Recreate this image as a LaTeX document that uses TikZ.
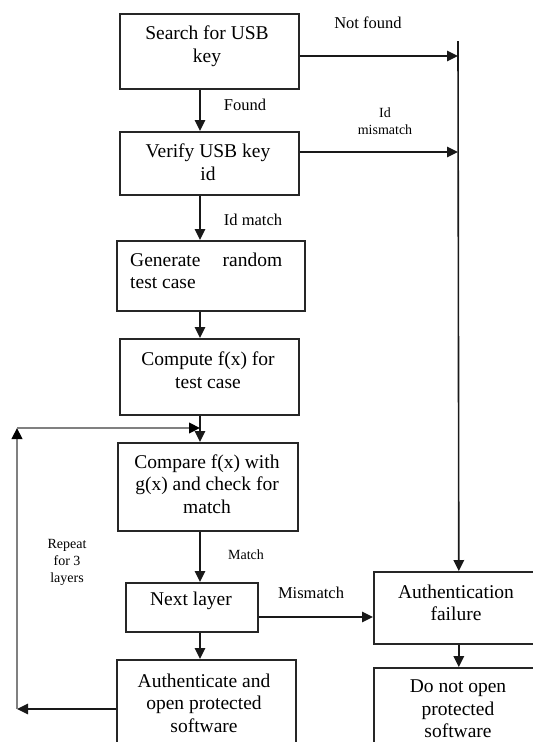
\documentclass[tikz,border=0pt]{standalone}
\usepackage{fontspec}
\setmainfont{Liberation Serif}
\usetikzlibrary{arrows.meta}
\begin{document}
\begin{tikzpicture}[x=1pt,y=-1pt,
  box/.style={draw=black!85, line width=1.6pt, inner sep=0pt, anchor=north west},
  txt/.style={font=\fontsize{19.5}{22.5}\selectfont, align=center, inner sep=0pt},
  lbl/.style={font=\fontsize{16.5}{19}\selectfont, inner sep=0pt},
  small/.style={font=\fontsize{14}{17}\selectfont, align=center, inner sep=0pt},
  arr/.style={draw=black!90, line width=1.6pt, -{Triangle[length=11pt,width=10.5pt]}},
  loopline/.style={draw=black!50, line width=2.4pt, -{Triangle[length=11pt,width=10.5pt,color=black]}}]
\useasboundingbox (0,0) rectangle (533,742);
% boxes
\node[box, minimum width=179pt, minimum height=75pt] (b1) at (119,13) {};
\node[box, minimum width=179pt, minimum height=63pt] (b2) at (119,131) {};
\node[box, minimum width=188pt, minimum height=70pt] (b3) at (116,240) {};
\node[box, minimum width=179pt, minimum height=76pt] (b4) at (119,338) {};
\node[box, minimum width=180pt, minimum height=88pt] (b5) at (117,442) {};
\node[box, minimum width=132pt, minimum height=49pt] (b6) at (125,582) {};
\node[box, minimum width=179pt, minimum height=100pt] (b7) at (116,659) {};
\node[box, minimum width=170pt, minimum height=72pt] (b8) at (373,571) {};
\node[box, minimum width=170pt, minimum height=100pt] (b9) at (373,667) {};
% box texts
\node[txt] (t1) at (207,46) {Search for USB\\key};
\node[txt] (t2) at (208,162) {Verify USB key\\id};
\node[txt, align=left, anchor=west] (t3) at (130,271) {\hbox to 152pt{Generate\hfill random}\\test case};
\node[txt] (t4) at (208,370) {Compute f(x) for\\test case};
\node[txt] (t5) at (207,484) {Compare f(x) with\\g(x) and check for\\match};
\node[txt] (t6) at (191,601) {Next layer};
\node[txt] (t7) at (456,603) {Authentication\\failure};
\node[txt] (t8) at (458,709) {Do not open\\protected\\software};
\node[txt] (t9) at (204,703) {Authenticate and\\open protected\\software};
% labels
\node[lbl] (l1) at (368,23) {Not found};
\node[lbl] (l2) at (245,105) {Found};
\node[small] (l3) at (385,121) {Id\\mismatch};
\node[lbl] (l4) at (253,220) {Id match};
\node[small] (l5) at (67,562) {Repeat\\for 3\\layers};
\node[small] (l6) at (246,555) {Match};
\node[lbl] (l7) at (311,593) {Mismatch};
% coordinates
\coordinate (col) at (200,0);
\coordinate (vtop) at (458,41);
\coordinate (r1) at (458,56);
\coordinate (r2) at (458,152);
\coordinate (m) at (0,617);
\coordinate (lb) at (17,709);
\coordinate (lt) at (17,428);
% right bus
\draw[arr] (vtop) -- (b8.north);
\draw[arr] (b1.east |- r1) -- (r1);
\draw[arr] (b2.east |- r2) -- (r2);
% main column
\draw[arr] (col |- b1.south) -- (col |- b2.north);
\draw[arr] (col |- b2.south) -- (col |- b3.north);
\draw[arr] (col |- b3.south) -- (col |- b4.north);
\draw[arr] (col |- b4.south) -- (col |- b5.north);
\draw[arr] (col |- b5.south) -- (col |- b6.north);
\draw[arr] (col |- b6.south) -- (col |- b7.north);
\draw[arr] (b6.east |- m) -- (b8.west |- m);
\draw[arr] (b8.south) -- (b9.north);
% loop
\draw[arr] (b7.west |- lb) -- (lb);
\draw[loopline] (lb) -- (lt);
\draw[loopline] (lt) -- (col |- lt);
\end{tikzpicture}
\end{document}
